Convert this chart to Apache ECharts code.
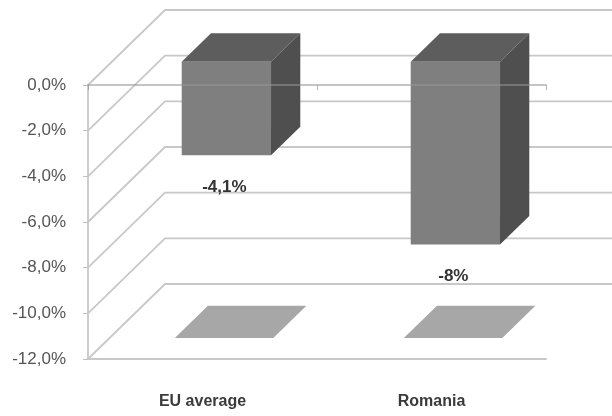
<!DOCTYPE html>
<html>
<head>
<meta charset="utf-8">
<script src="https://cdn.jsdelivr.net/npm/echarts@6/dist/echarts.min.js"></script>
<style>
  html, body { margin: 0; padding: 0; background: #fff; }
  #chart { width: 612px; height: 416px; }
</style>
</head>
<body>
<div id="chart"></div>
<script>
// chart data
const categories = ['EU average', 'Romania']
const values = [-4.1, -8]
const valueLabels = ['-4,1%', '-8%']
const gridValues = [0, -2, -4, -6, -8, -10, -12]

const FONT = '"Liberation Sans", Arial, sans-serif'
// screen projection of the full chart depth (the 3D walls)
const DEPTH = [77, -75]
const BAR_RATIO = 0.39
const BAR_FRONT = 0.31
const BAR_BACK = 0.69
const SHADOW_RATIO = 0.43
const SHADOW_FRONT = 0.28
const SHADOW_BACK = 0.71

const chart = echarts.init(document.getElementById('chart'))

const at = (f) => [DEPTH[0] * f, DEPTH[1] * f]

const renderWall = (params, api) => {
  const cs = params.coordSys
  const y = api.coord([0, api.value(1)])[1]
  return {
    type: 'polyline',
    silent: true,
    shape: {
      points: [
        [cs.x, y],
        [cs.x + DEPTH[0], y + DEPTH[1]],
        [cs.x + cs.width + DEPTH[0], y + DEPTH[1]]
      ]
    },
    style: { stroke: '#c8c8c8', lineWidth: 1.8, fill: null }
  }
}

const renderShadow = (params, api) => {
  const c = api.coord([api.value(0), gridValues[gridValues.length - 1]])
  const w = api.size([1, 0])[0] * SHADOW_RATIO
  const f = at(SHADOW_FRONT)
  const b = at(SHADOW_BACK)
  const xl = c[0] - w / 2
  const xr = c[0] + w / 2
  return {
    type: 'polygon',
    silent: true,
    shape: {
      points: [
        [xl + f[0], c[1] + f[1]],
        [xr + f[0], c[1] + f[1]],
        [xr + b[0], c[1] + b[1]],
        [xl + b[0], c[1] + b[1]]
      ]
    },
    style: { fill: '#a7a7a7' }
  }
}

const renderBar = (params, api) => {
  const idx = api.value(0)
  const c0 = api.coord([idx, 0])
  const c1 = api.coord([idx, api.value(1)])
  const w = api.size([1, 0])[0] * BAR_RATIO
  const f = at(BAR_FRONT)
  const b = at(BAR_BACK)
  const xl = c0[0] - w / 2
  const xr = c0[0] + w / 2
  const top = [
    [xl + f[0], c0[1] + f[1]], [xr + f[0], c0[1] + f[1]],
    [xr + b[0], c0[1] + b[1]], [xl + b[0], c0[1] + b[1]]
  ]
  const side = [
    [xr + f[0], c0[1] + f[1]], [xr + b[0], c0[1] + b[1]],
    [xr + b[0], c1[1] + b[1]], [xr + f[0], c1[1] + f[1]]
  ]
  const front = [
    [xl + f[0], c0[1] + f[1]], [xr + f[0], c0[1] + f[1]],
    [xr + f[0], c1[1] + f[1]], [xl + f[0], c1[1] + f[1]]
  ]
  return {
    type: 'group',
    children: [
      { type: 'polygon', shape: { points: top }, style: { fill: '#5d5d5d' } },
      { type: 'polygon', shape: { points: side }, style: { fill: '#4f4f4f' } },
      { type: 'polygon', shape: { points: front }, style: { fill: '#7f7f7f' } },
      {
        type: 'text',
        style: {
          text: valueLabels[params.dataIndex],
          x: c0[0] + f[0] - 2,
          y: c1[1] + f[1] + 32,
          align: 'center',
          verticalAlign: 'middle',
          fontFamily: FONT,
          fontSize: 17,
          fontWeight: 'bold',
          fill: '#333'
        }
      }
    ]
  }
}

const option = {
  animation: false,
  grid: { left: 88, right: 66, top: 85, bottom: 57 },
  xAxis: [
    {
      type: 'category',
      data: categories,
      position: 'bottom',
      axisLine: { onZero: false, lineStyle: { color: '#c8c8c8', width: 1.8 } },
      axisTick: { show: false },
      axisLabel: { margin: 35, fontFamily: FONT, fontSize: 16, fontWeight: 'bold', color: '#3a3a3a' }
    },
    {
      type: 'category',
      data: categories,
      position: 'top',
      z: 10,
      axisLine: { lineStyle: { color: 'rgba(150,150,150,0.55)', width: 1.8 } },
      axisTick: { show: true, inside: true, length: 5, lineStyle: { color: 'rgba(150,150,150,0.7)' } },
      axisLabel: { show: false }
    }
  ],
  yAxis: {
    type: 'value',
    min: -12,
    max: 0,
    interval: 2,
    axisLine: { show: true, lineStyle: { color: '#c8c8c8', width: 1.8 } },
    axisTick: { show: true, length: 5, lineStyle: { color: '#c0c0c0' } },
    splitLine: { show: false },
    axisLabel: {
      margin: 22,
      padding: [14, 0, 0, 0],
      fontFamily: FONT,
      fontSize: 17,
      color: '#555',
      formatter: (v) => v.toFixed(1).replace('.', ',') + '%'
    }
  },
  series: [
    {
      type: 'custom',
      z: 1,
      renderItem: renderWall,
      data: gridValues.map((v) => [0, v])
    },
    {
      type: 'custom',
      z: 2,
      renderItem: renderShadow,
      data: values.map((v, i) => [i, v])
    },
    {
      type: 'custom',
      z: 3,
      renderItem: renderBar,
      data: values.map((v, i) => [i, v])
    }
  ]
}

chart.setOption(option)
</script>
</body>
</html>
